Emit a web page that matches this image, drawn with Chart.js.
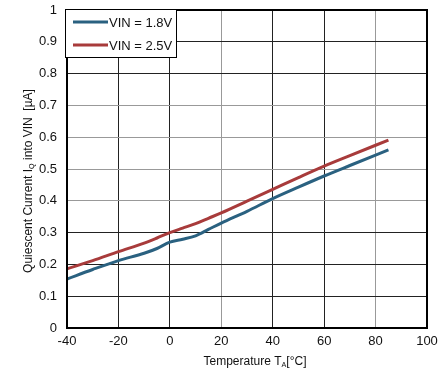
<!DOCTYPE html>
<html>
<head>
<meta charset="utf-8">
<script src="https://cdn.jsdelivr.net/npm/chart.js@4.4.1/dist/chart.umd.min.js"></script>
<style>
    html, body { margin: 0; padding: 0; background: #fff; }
    #wrap { width: 441px; height: 386px; }
</style>
</head>
<body>
<div id="wrap"><canvas id="chartLine"></canvas></div>
<script>
const temps = [-40, -30, -20, -10, -5, 0, 5, 10, 15, 20, 30, 40, 50, 60, 70, 85];
const vin18 = [0.154, 0.184, 0.212, 0.235, 0.250, 0.270, 0.279, 0.290, 0.310, 0.330, 0.367, 0.407, 0.443, 0.478, 0.511, 0.560];
const vin25 = [0.186, 0.212, 0.240, 0.267, 0.283, 0.300, 0.314, 0.328, 0.345, 0.362, 0.399, 0.436, 0.473, 0.509, 0.542, 0.591];
const seriesLabels = ['VIN = 1.8V', 'VIN = 2.5V'];
const xTicks = [-40, -20, 0, 20, 40, 60, 80, 100];
const yTicks = [0, 0.1, 0.2, 0.3, 0.4, 0.5, 0.6, 0.7, 0.8, 0.9, 1];

// grid lines that look lighter in the original
const xGrey = [20, 80];
const yGrey = [0.4, 0.5, 0.6, 0.7];

const FONT = '"Liberation Sans", Arial, sans-serif';

function toPoints(ys) {
    return temps.map((t, i) => ({ x: t, y: ys[i] }));
}

// draws text made of normal and subscript pieces
function drawRich(ctx, parts, size) {
    let total = 0;
    parts.forEach(p => {
        ctx.font = (p[1] ? size * 0.6 : size) + 'px ' + FONT;
        total += ctx.measureText(p[0]).width;
    });
    let x = -total / 2;
    parts.forEach(p => {
        ctx.font = (p[1] ? size * 0.6 : size) + 'px ' + FONT;
        ctx.fillText(p[0], x, p[1] ? 3 : 0);
        x += ctx.measureText(p[0]).width;
    });
}

const framePlugin = {
    id: 'frame',
    afterDraw(chart) {
        const ctx = chart.ctx;
        const a = chart.chartArea;
        ctx.save();
        // plot border
        ctx.strokeStyle = '#000';
        ctx.lineWidth = 2;
        ctx.strokeRect(a.left, a.top, a.right - a.left, a.bottom - a.top);

        // legend box
        ctx.fillStyle = '#fff';
        ctx.fillRect(a.left - 1, a.top - 1, 111, 48);
        ctx.lineWidth = 1;
        ctx.strokeRect(a.left - 1.5, a.top - 0.5, 111, 48);
        chart.data.datasets.forEach((ds, i) => {
            const y = a.top + 12 + i * 23;
            ctx.strokeStyle = ds.borderColor;
            ctx.lineWidth = 3;
            ctx.beginPath();
            ctx.moveTo(a.left + 6, y);
            ctx.lineTo(a.left + 41, y);
            ctx.stroke();
            ctx.fillStyle = '#111';
            ctx.font = '13px ' + FONT;
            ctx.textBaseline = 'middle';
            ctx.textAlign = 'left';
            ctx.fillText(ds.label, a.left + 42, y + 1);
        });

        // axis titles with subscripts
        ctx.fillStyle = '#111';
        ctx.textBaseline = 'middle';
        ctx.textAlign = 'left';
        ctx.save();
        ctx.translate((a.left + a.right) / 2 + 8, 362);
        drawRich(ctx, [['Temperature T', false], ['A', true], ['[°C]', false]], 12);
        ctx.restore();

        ctx.save();
        ctx.translate(29, (a.top + a.bottom) / 2 + 12);
        ctx.rotate(-Math.PI / 2);
        drawRich(ctx, [['Quiescent Current I', false], ['Q', true], [' into VIN  [µA]', false]], 12);
        ctx.restore();
        ctx.restore();
    }
};

const configChartLine = {
    type: 'line',
    data: {
        datasets: [
            {
                label: seriesLabels[0],
                data: toPoints(vin18),
                borderColor: '#2a6180',
                borderWidth: 3,
                pointRadius: 0,
                cubicInterpolationMode: 'monotone'
            },
            {
                label: seriesLabels[1],
                data: toPoints(vin25),
                borderColor: '#a83b3b',
                borderWidth: 3,
                pointRadius: 0,
                cubicInterpolationMode: 'monotone'
            }
        ]
    },
    options: {
        responsive: true,
        maintainAspectRatio: false,
        animation: false,
        layout: {
            padding: { left: 0, right: 14, top: 10, bottom: 0 }
        },
        plugins: {
            legend: { display: false },
            tooltip: { enabled: false }
        },
        scales: {
            x: {
                type: 'linear',
                min: -40,
                max: 100,
                afterBuildTicks: s => { s.ticks = xTicks.map(v => ({ value: v })); },
                afterFit: s => { s.height = 58; s.paddingLeft = 0; s.paddingRight = 0; },
                ticks: {
                    color: '#111',
                    font: { family: FONT, size: 13 },
                    padding: 6,
                    maxRotation: 0
                },
                grid: {
                    drawTicks: false,
                    color: c => xGrey.includes(c.tick && c.tick.value) ? '#999' : '#222',
                    lineWidth: 1
                },
                border: { display: false }
            },
            y: {
                min: 0,
                max: 1,
                afterBuildTicks: s => { s.ticks = yTicks.map(v => ({ value: v })); },
                afterFit: s => { s.width = 67; s.paddingTop = 0; s.paddingBottom = 0; },
                ticks: {
                    color: '#111',
                    font: { family: FONT, size: 13 },
                    padding: 10,
                    callback: v => String(Math.round(v * 10) / 10)
                },
                grid: {
                    drawTicks: false,
                    color: c => yGrey.some(v => Math.abs(v - (c.tick ? c.tick.value : -1)) < 1e-6) ? '#999' : '#222',
                    lineWidth: 1
                },
                border: { display: false }
            }
        }
    },
    plugins: [framePlugin]
};

let chartLine = document.getElementById('chartLine');
let oChartLine = new Chart(chartLine, configChartLine);
</script>
</body>
</html>
